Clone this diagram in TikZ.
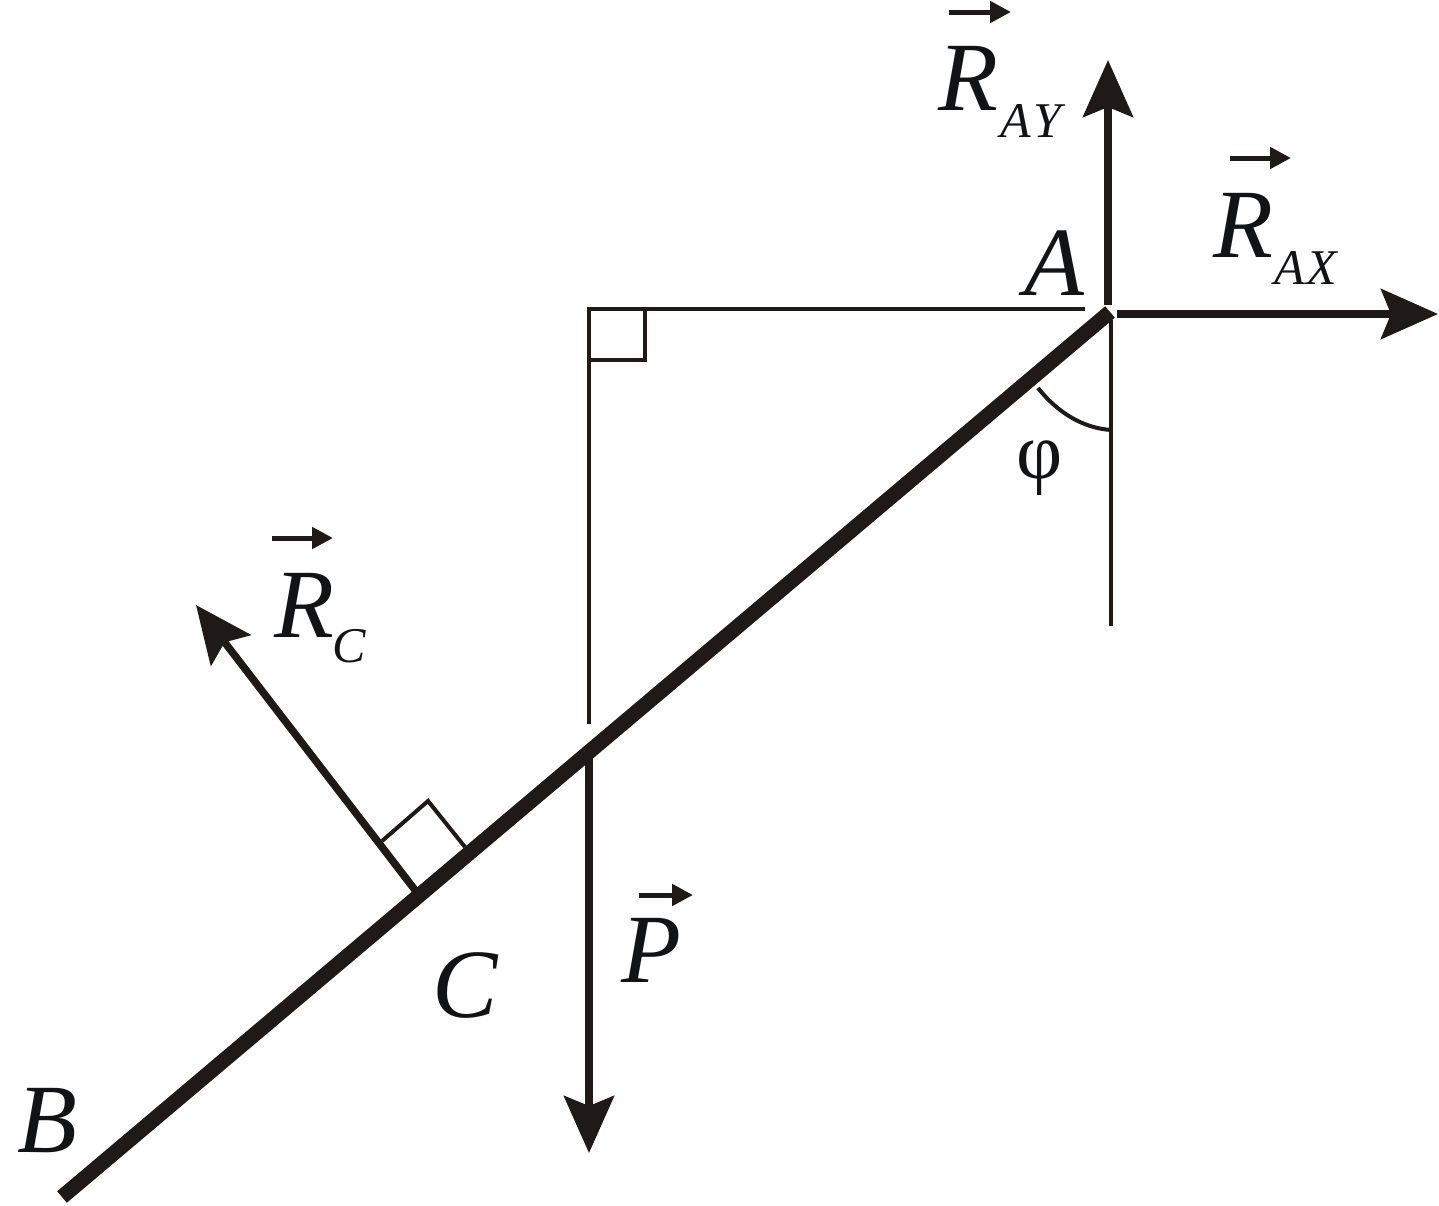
\documentclass[tikz,border=0pt]{standalone}
\usepackage{fontspec}
\setmainfont{Liberation Serif}
\usetikzlibrary{arrows.meta}
\definecolor{ink}{HTML}{1F1A17}
\definecolor{letter}{HTML}{111315}
\newcommand{\bigit}{\fontsize{98}{98}\selectfont\itshape}
\newcommand{\subit}{\fontsize{50}{50}\selectfont\itshape}
\tikzset{
  x=1pt,y=-1pt,
  beam/.style={line width=15pt,draw=ink},
  force/.style={line width=7.5pt,draw=ink,-{Stealth[length=57pt,width=50pt,inset=10pt,fill=ink]}},
  thin line/.style={line width=4pt,draw=ink},
  over/.style={line width=5pt,draw=ink,-{Stealth[length=21pt,width=21pt,inset=0pt,fill=ink]}},
  big/.style={inner sep=0pt,text=letter,font=\bigit},
  small/.style={inner sep=0pt,text=letter,font=\subit},
}
\begin{document}
\begin{tikzpicture}
\useasboundingbox (0,0) rectangle (1439,1205);
\coordinate (A) at (1110,312);
\coordinate (Bend) at (62,1197);
\draw[beam] (A) -- (Bend);
\coordinate (ayS) at (1108,305); \coordinate (ayE) at (1108,60);
\coordinate (axS) at (1117,314); \coordinate (axE) at (1438,314);
\coordinate (rcS) at (415,890); \coordinate (rcE) at (196,605);
\coordinate (pS) at (589,757); \coordinate (pE) at (589,1153);
\draw[force] (ayS) -- (ayE);
\draw[force] (axS) -- (axE);
\draw[force] (rcS) -- (rcE);
\draw[force] (pS) -- (pE);
\coordinate (t1) at (1085,309); \coordinate (t2) at (589,309); \coordinate (t3) at (589,724);
\draw[thin line] (t1) -- (t2) -- (t3);
\coordinate (s1) at (589,360); \coordinate (s2) at (645,360); \coordinate (s3) at (645,309);
\draw[thin line] (s1) -- (s2) -- (s3);
\coordinate (v1) at (1111,320); \coordinate (v2) at (1111,626);
\draw[thin line] (v1) -- (v2);
\coordinate (a1) at (1038,388); \coordinate (a2) at (1111,430);
\draw[thin line] (a1) .. controls (1058,413) and (1083,428) .. (a2);
\coordinate (r1) at (382,841); \coordinate (r2) at (428,801); \coordinate (r3) at (465,847);
\draw[thin line] (r1) -- (r2) -- (r3);
\node[big,anchor=base west] (lRay) at (938,110) {R};
\node[small,anchor=base west] (lRaySub) at (1000,137) {A\kern3pt Y};
\coordinate (o1a) at (949,12); \coordinate (o1b) at (1011,12);
\draw[over] (o1a) -- (o1b);
\node[big,anchor=base west] (lRax) at (1213,257) {R};
\node[small,anchor=base west] (lRaxSub) at (1274,284) {A\kern2pt X};
\coordinate (o2a) at (1230,158); \coordinate (o2b) at (1291,158);
\draw[over] (o2a) -- (o2b);
\node[big,anchor=base west] (lA) at (1024,295) {A};
\node[big,anchor=base west] (lRc) at (274,637) {R};
\node[small,anchor=base west] (lRcSub) at (332,662) {C};
\coordinate (o3a) at (272,538); \coordinate (o3b) at (333,538);
\draw[over] (o3a) -- (o3b);
\node[big,anchor=base west] (lP) at (621,982) {P};
\coordinate (o4a) at (639,895); \coordinate (o4b) at (693,895);
\draw[over] (o4a) -- (o4b);
\node[big,anchor=base west] (lC) at (432,1017) {C};
\node[big,anchor=base west] (lB) at (17,1152) {B};
\node[anchor=base west,inner sep=0pt,text=letter,font=\fontsize{80}{80}\selectfont] (lPhi) at (1016,478) {φ};
\end{tikzpicture}
\end{document}
